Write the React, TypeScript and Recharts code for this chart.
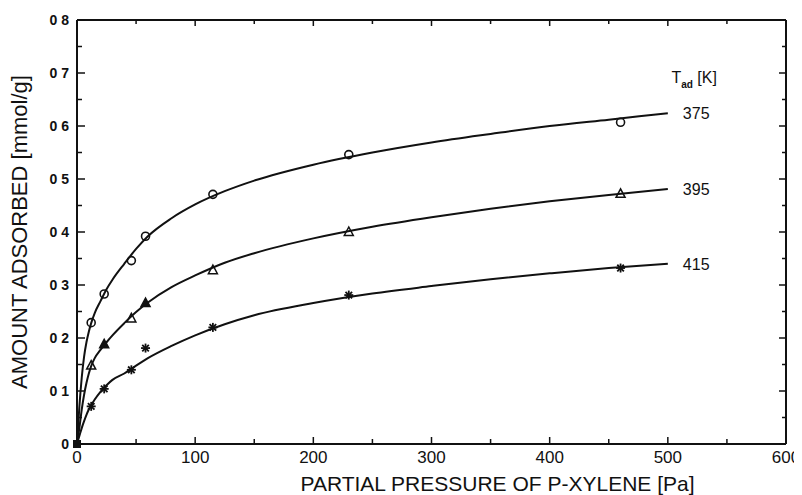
import React from 'react';
import { ComposedChart, Line, Scatter, XAxis, YAxis, LabelList, ReferenceDot } from 'recharts';

// ---------- data ----------
const xTicks = [0, 50, 100, 150, 200, 250, 300, 350, 400, 450, 500, 550, 600];
const yTicks = [0, 0.05, 0.1, 0.15, 0.2, 0.25, 0.3, 0.35, 0.4, 0.45, 0.5, 0.55, 0.6, 0.65, 0.7, 0.75, 0.8];
const yTickLabels: Record<string, string> = {
  '0': '0', '0.1': '0 1', '0.2': '0 2', '0.3': '0 3', '0.4': '0 4',
  '0.5': '0 5', '0.6': '0 6', '0.7': '0 7', '0.8': '0 8',
};

const seriesNames = ['375', '395', '415'];
const legendTitle = 'T';
const legendSub = 'ad';
const legendUnit = ' [K]';

// measured points
const pressureMeasured = [0, 12, 23, 46, 58, 115, 230, 460];
const amount375 = [0, 0.229, 0.283, 0.346, 0.392, 0.471, 0.546, 0.607];
const amount395 = [0, 0.148, 0.188, 0.237, 0.266, 0.328, 0.4, 0.472];
const amount415 = [0, 0.071, 0.104, 0.14, 0.181, 0.22, 0.281, 0.332];
const filledTrianglePressures = [23, 58];

// fitted curves
const curvePressure = [0, 1, 2, 4, 6, 8, 10, 12, 15, 20, 25, 30, 40, 50, 60, 80, 100, 125, 150, 200, 250, 300, 350, 400, 450, 500];
const curve375 = [0, 0.035, 0.07, 0.125, 0.165, 0.192, 0.212, 0.228, 0.247, 0.27, 0.292, 0.31, 0.34, 0.368, 0.392, 0.426, 0.452, 0.477, 0.497, 0.527, 0.55, 0.569, 0.585, 0.6, 0.612, 0.624];
const curve395 = [0, 0.015, 0.03, 0.065, 0.093, 0.115, 0.133, 0.147, 0.162, 0.178, 0.192, 0.205, 0.228, 0.249, 0.267, 0.296, 0.318, 0.342, 0.36, 0.388, 0.41, 0.428, 0.444, 0.458, 0.47, 0.481];
const curve415 = [0, 0.008, 0.015, 0.03, 0.043, 0.055, 0.065, 0.073, 0.084, 0.099, 0.111, 0.121, 0.133, 0.148, 0.162, 0.185, 0.205, 0.226, 0.243, 0.266, 0.284, 0.298, 0.311, 0.322, 0.332, 0.34];

const legendAt = { x: 503, y: 0.693 };

// ---------- build ----------
const toPts = (ys: number[]) => pressureMeasured.map((x, i) => ({ x, y: ys[i] }));
const toCurve = (ys: number[]) => curvePressure.map((x, i) => ({ x, y: ys[i] }));

const pts375 = toPts(amount375);
const pts395 = toPts(amount395);
const pts415 = toPts(amount415);
const line375 = toCurve(curve375);
const line395 = toCurve(curve395);
const line415 = toCurve(curve415);

const FONT = '"Liberation Sans", Arial, Helvetica, sans-serif';
const INK = '#111';

const isMajorX = (v: number) => v % 100 === 0;
const isMajorY = (v: number) => Math.abs(Math.round(v * 100) % 10) === 0;

const BottomTick = (p: any) => {
  const { x, y, payload } = p;
  const v = payload.value;
  const major = isMajorX(v);
  return (
    <g>
      <line x1={x} x2={x} y1={y} y2={y - (major ? 7 : 5)} stroke={INK} strokeWidth={1.5} />
      {major && (
        <text x={x} y={y + 19} textAnchor="middle" fontSize={17} fontFamily={FONT} fill={INK}>
          {v}
        </text>
      )}
    </g>
  );
};

const TopTick = (p: any) => {
  const { x, y, payload } = p;
  const major = isMajorX(payload.value);
  return <line x1={x} x2={x} y1={y} y2={y + (major ? 6 : 4)} stroke={INK} strokeWidth={1.5} />;
};

const LeftTick = (p: any) => {
  const { x, y, payload } = p;
  const v = payload.value;
  const major = isMajorY(v);
  const key = String(Math.round(v * 10) / 10);
  return (
    <g>
      <line x1={x} x2={x + (major ? 8 : 5)} y1={y} y2={y} stroke={INK} strokeWidth={1.5} />
      {major && (
        <text x={x - 8} y={y + 5} textAnchor="end" fontSize={14} fontWeight="bold" fontFamily={FONT} fill={INK}>
          {yTickLabels[key]}
        </text>
      )}
    </g>
  );
};

const RightTick = (p: any) => {
  const { x, y, payload } = p;
  const major = isMajorY(payload.value);
  return <line x1={x} x2={x - (major ? 7 : 4)} y1={y} y2={y} stroke={INK} strokeWidth={1.5} />;
};

const originSquare = (cx: number, cy: number) => (
  <rect x={cx - 4} y={cy - 4} width={8} height={8} fill={INK} />
);

const CircleShape = (p: any) => {
  const { cx, cy, payload } = p;
  if (payload.x === 0) return originSquare(cx, cy);
  return <circle cx={cx} cy={cy} r={4} fill="none" stroke={INK} strokeWidth={1.6} />;
};

const TriangleShape = (p: any) => {
  const { cx, cy, payload } = p;
  if (payload.x === 0) return originSquare(cx, cy);
  const filled = filledTrianglePressures.includes(payload.x);
  return (
    <polygon
      points={`${cx},${cy - 5} ${cx - 4.5},${cy + 3.5} ${cx + 4.5},${cy + 3.5}`}
      fill={filled ? INK : 'none'}
      stroke={INK}
      strokeWidth={1.5}
    />
  );
};

const StarShape = (p: any) => {
  const { cx, cy, payload } = p;
  if (payload.x === 0) return originSquare(cx, cy);
  const r = 4.5;
  const d = 3.3;
  return (
    <g stroke={INK} strokeWidth={1.8}>
      <line x1={cx} y1={cy - r} x2={cx} y2={cy + r} />
      <line x1={cx - r} y1={cy} x2={cx + r} y2={cy} />
      <line x1={cx - d} y1={cy - d} x2={cx + d} y2={cy + d} />
      <line x1={cx - d} y1={cy + d} x2={cx + d} y2={cy - d} />
    </g>
  );
};

const endLabel = (name: string, lastIndex: number) => (props: any) => {
  const { x, y, index } = props;
  if (index !== lastIndex) return null;
  return (
    <text x={x + 15} y={y + 6} fontSize={16} fontFamily={FONT} fill={INK}>
      {name}
    </text>
  );
};

const LegendTitle = (props: any) => {
  const vb = props.viewBox || {};
  const x = vb.x ?? 0;
  const y = vb.y ?? 0;
  return (
    <text x={x} y={y + 6} fontSize={16} fontFamily={FONT} fill={INK}>
      {legendTitle}
      <tspan dy={5} fontSize={10} fontWeight="bold">{legendSub}</tspan>
      <tspan dy={-5} fontSize={16}>{legendUnit}</tspan>
    </text>
  );
};

const XTitle = (props: any) => {
  const vb = props.viewBox || {};
  return (
    <text
      x={vb.x + vb.width / 2 + 66}
      y={vb.y + 47}
      textAnchor="middle"
      fontSize={21}
      fontFamily={FONT}
      fill={INK}
    >
      PARTIAL PRESSURE OF P-XYLENE  [Pa]
    </text>
  );
};

const YTitle = (props: any) => {
  const vb = props.viewBox || {};
  const cx = 11;
  const cy = vb.y + vb.height / 2;
  return (
    <text
      x={cx}
      y={cy}
      transform={`rotate(-90, ${cx}, ${cy})`}
      textAnchor="middle"
      dominantBaseline="central"
      fontSize={22}
      fontFamily={FONT}
      fill={INK}
    >
      AMOUNT ADSORBED  [mmol/g]
    </text>
  );
};

export default function App() {
  const last = curvePressure.length - 1;
  return (
    <div style={{ width: 794, height: 487, background: '#fff' }}>
      <ComposedChart
        width={794}
        height={487}
        margin={{ top: 11, right: 15, bottom: 0, left: 0 }}
        style={{ fontFamily: FONT }}
      >
        <XAxis
          xAxisId="main"
          dataKey="x"
          type="number"
          domain={[0, 600]}
          ticks={xTicks}
          interval={0}
          height={51}
          tickSize={0}
          tickMargin={0}
          tickLine={false}
          tick={<BottomTick />}
          axisLine={{ stroke: INK, strokeWidth: 2 }}
          label={<XTitle />}
        />
        <XAxis
          xAxisId="top"
          orientation="top"
          dataKey="x"
          type="number"
          domain={[0, 600]}
          ticks={xTicks}
          interval={0}
          height={1}
          tickSize={0}
          tickMargin={0}
          tickLine={false}
          tick={<TopTick />}
          axisLine={{ stroke: INK, strokeWidth: 2 }}
        />
        <YAxis
          yAxisId="main"
          dataKey="y"
          type="number"
          domain={[0, 0.8]}
          ticks={yTicks}
          interval={0}
          width={69}
          tickSize={0}
          tickMargin={0}
          tickLine={false}
          tick={<LeftTick />}
          axisLine={{ stroke: INK, strokeWidth: 2 }}
          label={<YTitle />}
        />
        <YAxis
          yAxisId="right"
          orientation="right"
          dataKey="y"
          type="number"
          domain={[0, 0.8]}
          ticks={yTicks}
          interval={0}
          width={1}
          tickSize={0}
          tickMargin={0}
          tickLine={false}
          tick={<RightTick />}
          axisLine={{ stroke: INK, strokeWidth: 2 }}
        />

        {/* invisible series binding the frame axes (top / right) */}
        <Line xAxisId="top" yAxisId="right" data={line375} dataKey="y" stroke="none" strokeWidth={0} dot={false} activeDot={false} legendType="none" isAnimationActive={false} />

        <Line xAxisId="main" yAxisId="main" data={line375} dataKey="y" type="monotone" stroke={INK} strokeWidth={2} dot={false} isAnimationActive={false}>
          <LabelList dataKey="y" content={endLabel(seriesNames[0], last)} />
        </Line>
        <Line xAxisId="main" yAxisId="main" data={line395} dataKey="y" type="monotone" stroke={INK} strokeWidth={2} dot={false} isAnimationActive={false}>
          <LabelList dataKey="y" content={endLabel(seriesNames[1], last)} />
        </Line>
        <Line xAxisId="main" yAxisId="main" data={line415} dataKey="y" type="monotone" stroke={INK} strokeWidth={2} dot={false} isAnimationActive={false}>
          <LabelList dataKey="y" content={endLabel(seriesNames[2], last)} />
        </Line>

        <Scatter xAxisId="main" yAxisId="main" data={pts375} dataKey="y" shape={CircleShape} isAnimationActive={false} />
        <Scatter xAxisId="main" yAxisId="main" data={pts395} dataKey="y" shape={TriangleShape} isAnimationActive={false} />
        <Scatter xAxisId="main" yAxisId="main" data={pts415} dataKey="y" shape={StarShape} isAnimationActive={false} />

        <ReferenceDot
          xAxisId="main"
          yAxisId="main"
          x={legendAt.x}
          y={legendAt.y}
          r={0}
          fill="none"
          stroke="none"
          label={<LegendTitle />}
        />
      </ComposedChart>
    </div>
  );
}
